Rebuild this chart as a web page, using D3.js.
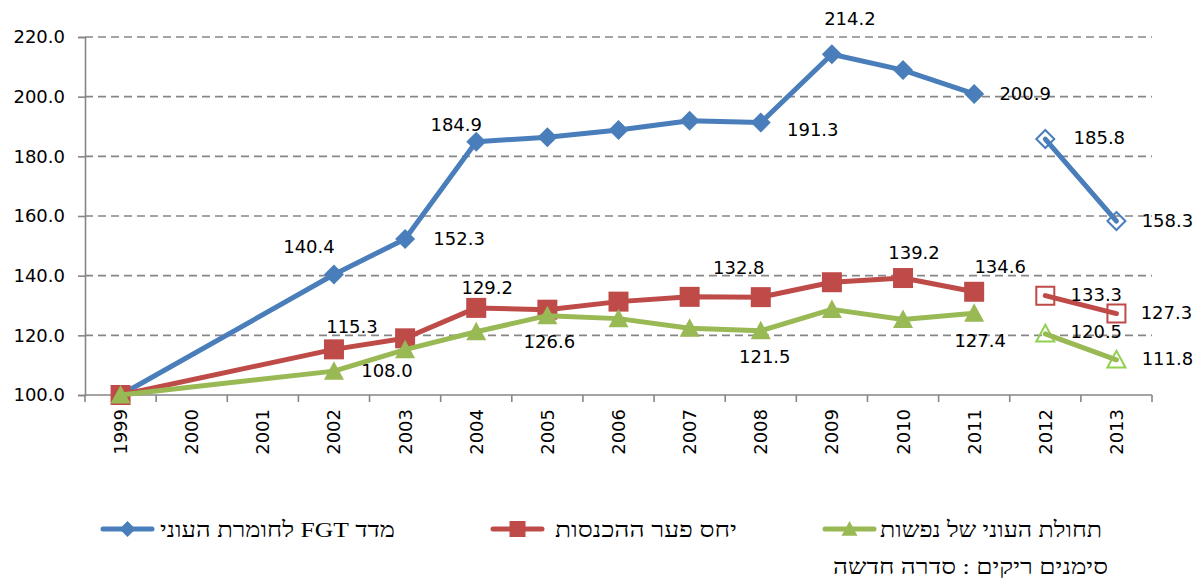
<!DOCTYPE html>
<html><head><meta charset="utf-8">
<script src="https://cdn.jsdelivr.net/npm/d3@7"></script>
<style>
html,body{margin:0;padding:0;background:#fff;}
svg{display:block;}
</style></head>
<body>
<svg id="chart" width="1199" height="581"></svg>
<script>
// ---------- data ----------
const years = ["1999","2000","2001","2002","2003","2004","2005","2006","2007","2008","2009","2010","2011","2012","2013"];
const fgtOld    = [100, null, null, 140.4, 152.3, 184.9, 186.4, 188.8, 191.9, 191.3, 214.2, 208.9, 200.9, null, null];
const fgtNew    = [null, null, null, null, null, null, null, null, null, null, null, null, null, 185.8, 158.3];
const gapOld    = [100, null, null, 115.3, 119.0, 129.2, 128.6, 131.3, 132.9, 132.8, 137.8, 139.2, 134.6, null, null];
const gapNew    = [null, null, null, null, null, null, null, null, null, null, null, null, null, 133.3, 127.3];
const incOld    = [100, null, null, 108.0, 115.2, 121.2, 126.6, 125.6, 122.4, 121.5, 128.7, 125.3, 127.4, null, null];
const incNew    = [null, null, null, null, null, null, null, null, null, null, null, null, null, 120.5, 111.8];
const yTicks    = [100, 120, 140, 160, 180, 200, 220];
const seriesNames = ["מדד FGT לחומרת העוני", "יחס פער ההכנסות", "תחולת העוני של נפשות"];
const noteText  = "סימנים ריקים : סדרה חדשה";

// labelled points (which values show a data label) and label placement (style)
const labelSpec = [
  {s:"fgtOld", y:"2002", dx:-25, dy:-28}, {s:"fgtOld", y:"2003", dx:54, dy:0},
  {s:"fgtOld", y:"2004", dx:-20, dy:-17}, {s:"fgtOld", y:"2008", dx:52, dy:7},
  {s:"fgtOld", y:"2009", dx:18, dy:-36},  {s:"fgtOld", y:"2011", dx:51, dy:0},
  {s:"fgtNew", y:"2012", dx:54, dy:-2},   {s:"fgtNew", y:"2013", dx:51, dy:-1},
  {s:"gapOld", y:"2002", dx:18, dy:-23},  {s:"gapOld", y:"2004", dx:11, dy:-20},
  {s:"gapOld", y:"2008", dx:-22, dy:-30}, {s:"gapOld", y:"2010", dx:11, dy:-26},
  {s:"gapOld", y:"2011", dx:26, dy:-25},  {s:"gapNew", y:"2012", dx:51, dy:-1},
  {s:"gapNew", y:"2013", dx:50, dy:-1},
  {s:"incOld", y:"2002", dx:53, dy:-1},   {s:"incOld", y:"2005", dx:2, dy:26},
  {s:"incOld", y:"2008", dx:4, dy:26},    {s:"incOld", y:"2011", dx:6, dy:27},
  {s:"incNew", y:"2012", dx:51, dy:-2},   {s:"incNew", y:"2013", dx:51, dy:-1}
];

// ---------- layout ----------
const svg = d3.select("#chart");
const L = 85, R = 1152, T = 37, B = 395;
const x = d3.scaleBand().domain(years).range([L, R]).padding(0);
const cx = yr => x(yr) + x.bandwidth() / 2;
const y = d3.scaleLinear().domain([100, 220]).range([B, T]);

const BLUE = "#4A7EBB", RED = "#BE4B48", GREEN = "#98B954", GREEN_LIGHT = "#92D050";
const AXIS = "#868686";
const numFont = "'DejaVu Sans', Verdana, sans-serif";
const hebFont = "'Liberation Serif', 'Times New Roman', serif";

// gridlines
svg.append("g").selectAll("line").data(yTicks.filter(v => v > 100)).join("line")
  .attr("x1", L).attr("x2", R).attr("y1", d => y(d)).attr("y2", d => y(d))
  .attr("stroke", AXIS).attr("stroke-width", 1.6).attr("stroke-dasharray", "8,5");

// y axis
const yAxis = d3.axisLeft(y).tickValues(yTicks).tickFormat(d3.format(".1f")).tickSize(7).tickPadding(13);
const gy = svg.append("g").attr("transform", `translate(${L},0)`).call(yAxis);
gy.select(".domain").attr("stroke", AXIS).attr("stroke-width", 1.6);
gy.selectAll(".tick line").attr("stroke", AXIS).attr("stroke-width", 1.6);
gy.selectAll(".tick text").attr("font-family", numFont).attr("font-size", 18).attr("fill", "#000");

// x axis: ticks at category boundaries
svg.append("line").attr("x1", L).attr("x2", R).attr("y1", B).attr("y2", B)
  .attr("stroke", AXIS).attr("stroke-width", 1.6);
const bounds = years.map(yr => x(yr)).concat([R]);
svg.append("g").selectAll("line").data(bounds).join("line")
  .attr("x1", d => d).attr("x2", d => d).attr("y1", B).attr("y2", B + 7)
  .attr("stroke", AXIS).attr("stroke-width", 1.6);
svg.append("g").selectAll("text").data(years).join("text")
  .attr("transform", d => `translate(${cx(d)},${B + 14}) rotate(-90)`)
  .attr("text-anchor", "end").attr("dominant-baseline", "central")
  .attr("font-family", numFont).attr("font-size", 18).attr("fill", "#000")
  .text(d => d);

// ---------- series ----------
const seriesData = {fgtOld, fgtNew, gapOld, gapNew, incOld, incNew};
const seriesStyle = {
  fgtOld: {color: BLUE, marker: "diamond", hollow: false},
  fgtNew: {color: BLUE, marker: "diamond", hollow: true, mcolor: BLUE},
  gapOld: {color: RED, marker: "square", hollow: false},
  gapNew: {color: RED, marker: "square", hollow: true, mcolor: RED},
  incOld: {color: GREEN, marker: "triangle", hollow: false},
  incNew: {color: GREEN, marker: "triangle", hollow: true, mcolor: GREEN_LIGHT}
};
const pts = key => years.map((yr, i) => ({yr, v: seriesData[key][i]})).filter(d => d.v != null);
const line = d3.line().x(d => cx(d.yr)).y(d => y(d.v));

function markerPath(type, s) {
  if (type === "diamond") return `M0,${-s}L${s},0L0,${s}L${-s},0Z`;
  if (type === "square") return `M${-s},${-s}H${s}V${s}H${-s}Z`;
  return `M0,${-s}L${s},${s*0.85}L${-s},${s*0.85}Z`;
}
const markerSize = {diamond: 10, square: 10, triangle: 10};

const drawOrder = ["fgtOld", "gapOld", "incOld", "fgtNew", "gapNew", "incNew"];
drawOrder.forEach(key => {
  const st = seriesStyle[key];
  const g = svg.append("g");
  const data = pts(key);
  if (st.hollow) {
    g.selectAll("path.m").data(data).join("path").attr("class", "m")
      .attr("transform", d => `translate(${cx(d.yr)},${y(d.v)})`)
      .attr("d", markerPath(st.marker, markerSize[st.marker] - 1))
      .attr("fill", "none").attr("stroke", st.mcolor).attr("stroke-width", 2);
    g.append("path").datum(data).attr("d", line).attr("fill", "none")
      .attr("stroke", st.color).attr("stroke-width", 5).attr("stroke-linecap", "round");
  } else {
    g.append("path").datum(data).attr("d", line).attr("fill", "none")
      .attr("stroke", st.color).attr("stroke-width", 5).attr("stroke-linejoin", "round");
    g.selectAll("path.m").data(data).join("path").attr("class", "m")
      .attr("transform", d => `translate(${cx(d.yr)},${y(d.v)})`)
      .attr("d", markerPath(st.marker, markerSize[st.marker]))
      .attr("fill", st.color);
  }
});

// data labels
svg.append("g").selectAll("text").data(labelSpec).join("text")
  .attr("x", d => cx(d.y) + d.dx)
  .attr("y", d => y(seriesData[d.s][years.indexOf(d.y)]) + d.dy)
  .attr("text-anchor", "middle").attr("dominant-baseline", "central")
  .attr("font-family", numFont).attr("font-size", 18).attr("fill", "#000")
  .text(d => d3.format(".1f")(seriesData[d.s][years.indexOf(d.y)]));

// ---------- legend ----------
const legendItems = [
  {name: seriesNames[0], color: BLUE, marker: "diamond", mx: 100, tx: 160, tw: 235},
  {name: seriesNames[1], color: RED, marker: "square", mx: 490, tx: 555, tw: 182},
  {name: seriesNames[2], color: GREEN, marker: "triangle", mx: 822, tx: 880, tw: 222}
];
const LY = 529;
const lg = svg.append("g");
function hebText(g, x0, w, yy, txt) {
  g.append("text").attr("x", x0 + w / 2).attr("y", yy).attr("dominant-baseline", "central")
    .attr("text-anchor", "middle").attr("direction", "rtl")
    .attr("font-family", hebFont).attr("font-size", 22).attr("fill", "#000")
    .attr("textLength", w).attr("lengthAdjust", "spacingAndGlyphs")
    .text(txt);
}
legendItems.forEach(it => {
  lg.append("line").attr("x1", it.mx + 3).attr("x2", it.mx + 52).attr("y1", LY).attr("y2", LY)
    .attr("stroke", it.color).attr("stroke-width", 5).attr("stroke-linecap", "round");
  lg.append("path").attr("transform", `translate(${it.mx + 27.5},${LY})`)
    .attr("d", markerPath(it.marker, 8)).attr("fill", it.color);
  hebText(lg, it.tx, it.tw, LY, it.name);
});
hebText(lg, 833, 275, 566, noteText);
</script>
</body></html>
